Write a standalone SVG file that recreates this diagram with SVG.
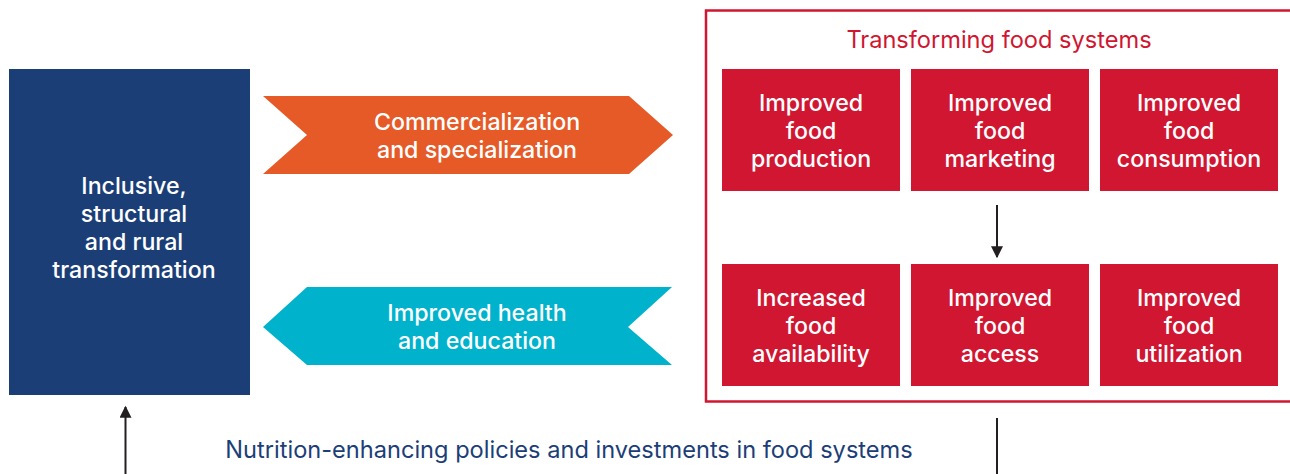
<svg xmlns="http://www.w3.org/2000/svg" width="1290" height="474" viewBox="0 0 1290 474">
<style>
text{font-family:Inter,"Liberation Sans",Arial,sans-serif;font-size:23.2px;font-weight:500;text-anchor:middle}
.w{fill:#ffffff}
.t{font-weight:400;font-size:23.6px}
.rb{fill:#d01631}
.ln{stroke:#231f20;stroke-width:2;fill:none}
</style>
<defs>
<marker id="ah2" viewBox="0 0 10 10" refX="9" refY="5" markerWidth="14" markerHeight="12" orient="auto" markerUnits="userSpaceOnUse">
<path d="M0,0 L10,5 L0,10 z" fill="#231f20"/>
</marker>
</defs>
<rect x="0" y="0" width="1290" height="474" fill="#ffffff"/>
<g id="connectors">
<line class="ln" x1="997" y1="205" x2="997" y2="257" marker-end="url(#ah2)"/>
<line class="ln" x1="997" y1="418" x2="997" y2="474"/>
<line class="ln" x1="125.5" y1="474" x2="125.5" y2="407" marker-end="url(#ah2)"/>
</g>
<g id="transformation">
<rect x="9" y="69" width="241" height="326" fill="#1c3e77"/>
<text class="w" x="134" y="194">Inclusive,</text>
<text class="w" x="134" y="222">structural</text>
<text class="w" x="134" y="250">and rural</text>
<text class="w" x="134" y="278">transformation</text>
</g>
<g id="commercialization">
<polygon points="263,96 629,96 673,135 629,174 263,174 307,135" fill="#e55a27"/>
<text class="w" x="477" y="130">Commercialization</text>
<text class="w" x="477" y="158">and specialization</text>
</g>
<g id="health">
<polygon points="263,327 307,287 672,287 628,327 672,365 307,365" fill="#00b2cc"/>
<text class="w" x="477" y="321">Improved health</text>
<text class="w" x="477" y="349">and education</text>
</g>
<g id="food-systems">
<rect x="706" y="10.5" width="590" height="391" fill="none" stroke="#d01631" stroke-width="2.5"/>
<text class="t" x="999" y="48" fill="#d01631">Transforming food systems</text>
</g>
<g id="production">
<rect class="rb" x="722" y="69" width="178" height="122"/>
<text class="w" x="811" y="111">Improved</text>
<text class="w" x="811" y="139">food</text>
<text class="w" x="811" y="167">production</text>
</g>
<g id="marketing">
<rect class="rb" x="911" y="69" width="178" height="122"/>
<text class="w" x="1000" y="111">Improved</text>
<text class="w" x="1000" y="139">food</text>
<text class="w" x="1000" y="167">marketing</text>
</g>
<g id="consumption">
<rect class="rb" x="1100" y="69" width="178" height="122"/>
<text class="w" x="1189" y="111">Improved</text>
<text class="w" x="1189" y="139">food</text>
<text class="w" x="1189" y="167">consumption</text>
</g>
<g id="availability">
<rect class="rb" x="722" y="264" width="178" height="122"/>
<text class="w" x="811" y="306">Increased</text>
<text class="w" x="811" y="334">food</text>
<text class="w" x="811" y="362">availability</text>
</g>
<g id="access">
<rect class="rb" x="911" y="264" width="178" height="122"/>
<text class="w" x="1000" y="306">Improved</text>
<text class="w" x="1000" y="334">food</text>
<text class="w" x="1000" y="362">access</text>
</g>
<g id="utilization">
<rect class="rb" x="1100" y="264" width="178" height="122"/>
<text class="w" x="1189" y="306">Improved</text>
<text class="w" x="1189" y="334">food</text>
<text class="w" x="1189" y="362">utilization</text>
</g>
<g id="policies">
<text class="t" x="569" y="458" fill="#1c3e77">Nutrition-enhancing policies and investments in food systems</text>
</g>
</svg>
